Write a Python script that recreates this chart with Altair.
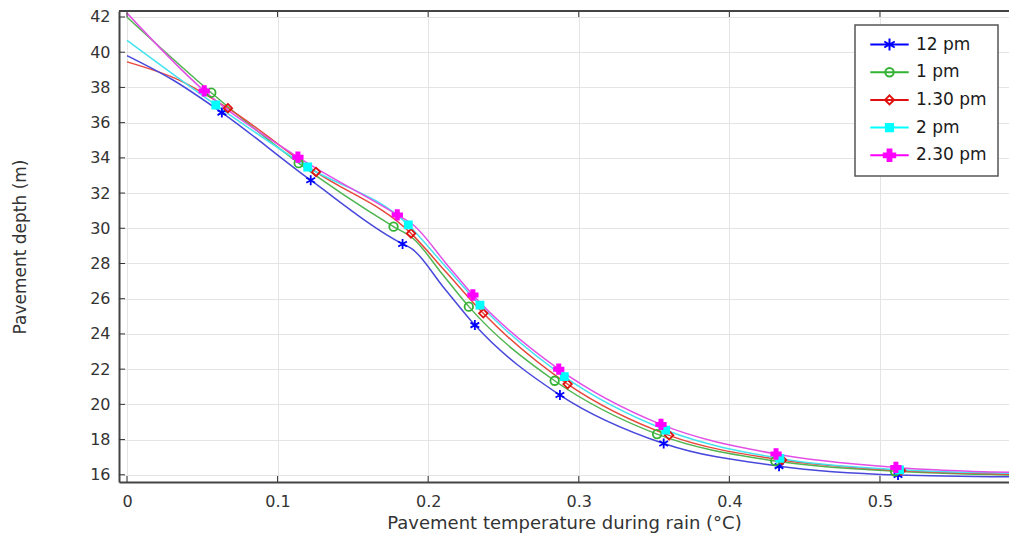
import altair as alt
import pandas as pd

# ---------------- data ----------------
series = ["12 pm", "1 pm", "1.30 pm", "2 pm", "2.30 pm"]

# marker points (x = temperature, y = depth)
mk_x = {
    "12 pm":   [0.063, 0.122, 0.183, 0.231, 0.2875, 0.3564, 0.433, 0.512],
    "1 pm":    [0.056, 0.114, 0.177, 0.227, 0.284, 0.352, 0.4305, 0.510],
    "1.30 pm": [0.067, 0.1255, 0.1886, 0.2366, 0.2926, 0.360, 0.435, 0.514],
    "2 pm":    [0.059, 0.120, 0.1868, 0.2344, 0.2904, 0.3577, 0.4336, 0.513],
    "2.30 pm": [0.0513, 0.1135, 0.1795, 0.2297, 0.2867, 0.3546, 0.431, 0.5106],
}
mk_y = {
    "12 pm":   [36.57, 32.73, 29.11, 24.50, 20.53, 17.78, 16.49, 15.99],
    "1 pm":    [37.70, 33.70, 30.09, 25.55, 21.34, 18.31, 16.78, 16.20],
    "1.30 pm": [36.82, 33.20, 29.71, 25.17, 21.15, 18.24, 16.84, 16.24],
    "2 pm":    [37.00, 33.48, 30.19, 25.64, 21.57, 18.54, 16.93, 16.28],
    "2.30 pm": [37.80, 34.04, 30.76, 26.21, 22.00, 18.86, 17.18, 16.42],
}
# additional points of the curves (start, bends, steep part, right end)
ex_x = {
    "12 pm":   [0.0, 0.03, 0.189, 0.21, 0.59],
    "1 pm":    [0.0, 0.19, 0.21, 0.59],
    "1.30 pm": [0.0, 0.035, 0.212, 0.59],
    "2 pm":    [0.0, 0.212, 0.59],
    "2.30 pm": [0.0, 0.19, 0.212, 0.59],
}
ex_y = {
    "12 pm":   [39.81, 38.45, 28.85, 26.67, 15.88],
    "1 pm":    [41.99, 29.42, 27.33, 15.98],
    "1.30 pm": [39.45, 38.40, 27.50, 16.03],
    "2 pm":    [40.67, 27.78, 16.08],
    "2.30 pm": [42.22, 30.20, 27.99, 16.13],
}

x_ticks = [0, 0.1, 0.2, 0.3, 0.4, 0.5]
y_ticks = [16, 18, 20, 22, 24, 26, 28, 30, 32, 34, 36, 38, 40, 42]

# ---------------- styles ----------------
line_colors = ["#4848dc", "#4fb54f", "#e8473c", "#45e3ef", "#e34fe6"]
marker_colors = ["#0000ff", "#33b233", "#e01010", "#00ffff", "#ff00ff"]
marker_fills = ["transparent", "transparent", "transparent", "#00ffff", "#ff00ff"]

plot_shapes = [
    "M0,-1V1M-0.87,-0.5L0.87,0.5M-0.87,0.5L0.87,-0.5",
    "M0.85,0A0.85,0.85,0,1,1,-0.85,0A0.85,0.85,0,1,1,0.85,0Z",
    "M0,-0.85L0.85,0L0,0.85L-0.85,0Z",
    "M-0.7,-0.7H0.7V0.7H-0.7Z",
    "M-0.32,-0.95H0.32V-0.32H0.95V0.32H0.32V0.95H-0.32V0.32H-0.95V-0.32H-0.32Z",
]
seg = "M-3.2,0H3.2"
legend_shapes = [
    seg + "M0,-1V1M-0.87,-0.5L0.87,0.5M-0.87,0.5L0.87,-0.5",
    seg + "M0.7,0A0.7,0.7,0,1,1,-0.7,0A0.7,0.7,0,1,1,0.7,0Z",
    seg + "M0,-0.75L0.75,0L0,0.75L-0.75,0Z",
    seg + "M-0.6,-0.6H0.6V0.6H-0.6Z",
    seg + "M-0.32,-0.95H0.32V-0.32H0.95V0.32H0.32V0.95H-0.32V0.32H-0.95V-0.32H-0.32Z",
]

W, H = 890, 471
FONT = "DejaVu Sans"
XTITLE = "Pavement temperature during rain (°C)"
YTITLE = "Pavement depth (m)"

# ---------------- tables ----------------
rows_m, rows_l = [], []
for s in series:
    for xv, yv in zip(mk_x[s], mk_y[s]):
        rows_m.append({"series": s, "x": xv, "y": yv})
        rows_l.append({"series": s, "x": xv, "y": yv})
    for xv, yv in zip(ex_x[s], ex_y[s]):
        rows_l.append({"series": s, "x": xv, "y": yv})
markers = pd.DataFrame(rows_m)
lines = pd.DataFrame(rows_l).sort_values(["series", "x"])
xt = pd.DataFrame({"x": x_ticks})
yt = pd.DataFrame({"y": y_ticks})

xscale = alt.Scale(domain=[-0.0053, 0.5857], nice=False, zero=False)
yscale = alt.Scale(domain=[15.59, 42.34], nice=False, zero=False)
xaxis = alt.Axis(values=x_ticks, format="~g", title=XTITLE, labelPadding=11,
                 titlePadding=5, titleFontSize=18)
yaxis = alt.Axis(values=y_ticks, title=YTITLE, labelPadding=9, titlePadding=60,
                 titleFontSize=17)


def X(f="x"):
    return alt.X(f"{f}:Q", scale=xscale, axis=xaxis)


def Y(f="y"):
    return alt.Y(f"{f}:Q", scale=yscale, axis=yaxis)


line_layer = alt.Chart(lines).mark_line(
    interpolate="monotone", strokeWidth=1.5, clip=True
).encode(
    x=X(), y=Y(),
    color=alt.Color("series:N", scale=alt.Scale(domain=series, range=line_colors), legend=None),
    order=alt.Order("x:Q"),
)

marker_layer = alt.Chart(markers).mark_point(
    size=100, strokeWidth=1.8, opacity=1, clip=True
).encode(
    x=X(), y=Y(),
    shape=alt.Shape("series:N", scale=alt.Scale(domain=series, range=plot_shapes), legend=None),
    stroke=alt.Stroke("series:N", scale=alt.Scale(domain=series, range=marker_colors), legend=None),
    fill=alt.Fill("series:N", scale=alt.Scale(domain=series, range=marker_fills), legend=None),
)

leg = alt.Legend(
    title=None, orient="none", legendX=736, legendY=14, padding=11,
    symbolSize=144, symbolOffset=15, labelOffset=18, labelFont=FONT,
    labelFontSize=17, labelColor="#1a1a1a", rowPadding=6.7, strokeColor="#555",
    fillColor="white", symbolStrokeWidth=2, symbolOpacity=1, gridAlign="all",
)
legend_layer = alt.Chart(markers).transform_filter("false").mark_point(
    size=144, strokeWidth=2, opacity=1
).encode(
    x=X(), y=Y(),
    shape=alt.Shape("series:N", scale=alt.Scale(domain=series, range=legend_shapes), legend=leg),
    stroke=alt.Stroke("series:N", scale=alt.Scale(domain=series, range=marker_colors), legend=leg),
    fill=alt.Fill("series:N", scale=alt.Scale(domain=series, range=marker_fills), legend=leg),
)

tick_bottom = alt.Chart(xt).mark_rule(color="#333", strokeWidth=1).encode(
    x=X(), y=alt.value(H), y2=alt.value(H - 6))
tick_top = alt.Chart(xt).mark_rule(color="#333", strokeWidth=1).encode(
    x=X(), y=alt.value(0), y2=alt.value(6))
tick_left = alt.Chart(yt).mark_rule(color="#333", strokeWidth=1).encode(
    y=Y(), x=alt.value(0), x2=alt.value(6))
top_line = alt.Chart(xt).mark_rule(color="#444", strokeWidth=2).encode(
    x=alt.value(0), x2=alt.value(W), y=alt.value(0))

chart = alt.layer(
    line_layer, marker_layer, legend_layer, tick_bottom, tick_top, tick_left, top_line
).resolve_scale(
    shape="independent", stroke="independent", fill="independent"
).properties(
    width=W, height=H,
    autosize=alt.AutoSizeParams(type="none"),
    padding={"left": 111, "top": 3, "right": 0, "bottom": 51},
).configure(
    font=FONT
).configure_view(
    stroke=None
).configure_axis(
    labelFont=FONT, labelFontSize=16, labelColor="#333",
    titleFont=FONT, titleColor="#333", titleFontWeight="normal",
    domainColor="#444", domainWidth=2, ticks=False,
    gridColor="#e4e4e4", gridWidth=1,
).configure_legend(
    strokeWidth=1.5
)

chart.save("out.html", embed_options={"renderer": "svg", "actions": False})
